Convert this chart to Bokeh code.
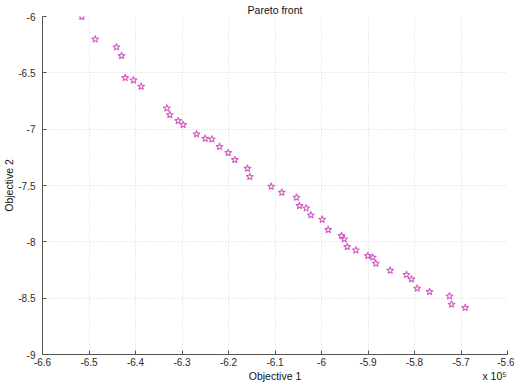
from bokeh.plotting import figure
from bokeh.models import Range1d, FixedTicker, CustomJSTickFormatter, LinearAxis
from bokeh.embed import file_html
from bokeh.resources import INLINE

# ---- data ----
objective1 = [-651550, -648670, -644090, -643000, -642220, -640430, -638780,
              -633270, -632620, -630820, -629740, -626880, -625010, -623590,
              -621940, -620060, -618640, -615910, -615420, -610820, -608540,
              -605380, -604730, -603290, -602300, -599850, -598560, -595700,
              -595120, -594470, -592620, -590040, -588970, -588320, -585230,
              -581720, -580650, -579420, -576770, -572470, -572040, -569100]
objective2 = [-6.003, -6.201, -6.272, -6.349, -6.544, -6.565, -6.621,
              -6.814, -6.873, -6.926, -6.961, -7.044, -7.083, -7.089,
              -7.156, -7.209, -7.272, -7.349, -7.422, -7.508, -7.562,
              -7.606, -7.680, -7.701, -7.763, -7.801, -7.893, -7.946,
              -7.976, -8.044, -8.074, -8.124, -8.138, -8.192, -8.254,
              -8.292, -8.331, -8.413, -8.443, -8.482, -8.555, -8.585]
x_ticks = [-660000, -650000, -640000, -630000, -620000, -610000,
           -600000, -590000, -580000, -570000, -560000]
y_ticks = [-9, -8.5, -8, -7.5, -7, -6.5, -6]
title_text = "Pareto front"
x_label = "Objective 1"
y_label = "Objective 2"
exp_note = "x 10\u2075"

FONT = "Liberation Sans"
DARK = "#2a2a2a"
AXIS = "#555555"

p = figure(width=514, height=384, output_backend="svg", toolbar_location=None,
           x_range=Range1d(x_ticks[0], x_ticks[-1]),
           y_range=Range1d(y_ticks[0], y_ticks[-1]),
           min_border_left=42, min_border_right=7,
           min_border_top=16, min_border_bottom=30)
p.border_fill_color = "white"
p.background_fill_color = "white"
p.outline_line_color = None

p.title.text = title_text
p.title.align = "center"
p.title.text_font = FONT
p.title.text_font_size = "10.5px"
p.title.text_font_style = "normal"
p.title.text_color = "#111111"
p.title.standoff = 2

xt = FixedTicker(ticks=x_ticks)
yt = FixedTicker(ticks=y_ticks)
p.xaxis.ticker = xt
p.yaxis.ticker = yt
p.xgrid.ticker = xt
p.ygrid.ticker = yt
p.xaxis.formatter = CustomJSTickFormatter(
    code="return String(parseFloat((tick/1e5).toFixed(1)));")
p.yaxis.formatter = CustomJSTickFormatter(
    code="return String(parseFloat(tick.toFixed(1)));")

p.yaxis.axis_label = y_label
for ax in (p.xaxis, p.yaxis):
    ax.major_tick_in = 4
    ax.major_tick_out = 0
    ax.minor_tick_line_color = None
    ax.axis_line_color = AXIS
    ax.major_tick_line_color = AXIS
    ax.major_label_text_font = FONT
    ax.major_label_text_font_size = "10px"
    ax.major_label_text_color = DARK
    ax.axis_label_text_font = FONT
    ax.axis_label_text_font_size = "10.5px"
    ax.axis_label_text_font_style = "normal"
    ax.axis_label_text_color = "#111111"
    ax.axis_label_standoff = 0
p.xaxis.major_label_standoff = 3
p.yaxis.major_label_standoff = 7

# second, bare axis row under the x axis: carries the x label (centred)
# and the "x 10^5" scale note at the right end, side by side as in MATLAB
x_mid = (x_ticks[0] + x_ticks[-1]) / 2
x_note = x_ticks[-1] - 0.028 * (x_ticks[-1] - x_ticks[0])
label_axis = LinearAxis(ticker=FixedTicker(ticks=[x_mid, x_note]),
                        major_label_overrides={x_mid: x_label, x_note: exp_note},
                        axis_line_color=None, major_tick_line_color=None,
                        minor_tick_line_color=None,
                        major_tick_in=0, major_tick_out=0,
                        major_label_standoff=1,
                        major_label_text_font=FONT,
                        major_label_text_font_size="10.5px",
                        major_label_text_color="#111111")
p.add_layout(label_axis, "below")

for g in (p.xgrid, p.ygrid):
    g.grid_line_color = "#d6d6d6"
    g.grid_line_dash = "1 2"
    g.grid_line_width = 1

p.scatter(objective1, objective2, marker="star", size=7.5,
          fill_color=None, line_color="#d35fc4", line_width=1.1)

open("out.html", "w").write(file_html(p, INLINE))
